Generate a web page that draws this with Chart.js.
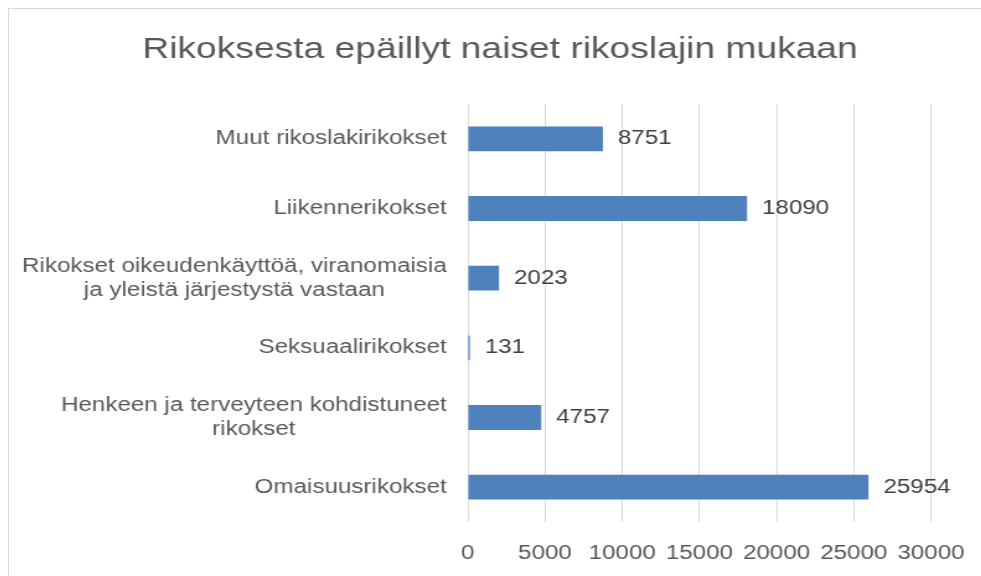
<!DOCTYPE html>
<html>
<head>
<meta charset="utf-8">
<script src="https://cdn.jsdelivr.net/npm/chart.js@4/dist/chart.umd.min.js"></script>
<style>
  html, body { margin: 0; padding: 0; background: #fff; overflow: hidden; }
  #frame { position: absolute; left: 8px; top: 8px; width: 1000px; height: 620px; border: 1px solid #d9d9d9; }
  #wrap { position: relative; width: 792px; height: 587px; transform: scaleX(1.24); transform-origin: 0 0; }
</style>
</head>
<body>
<div id="frame"><div id="wrap"><canvas id="crimeBar"></canvas></div></div>
<script>
// Categories, top to bottom
const categories = [
    ['Muut rikoslakirikokset'],
    ['Liikennerikokset'],
    ['Rikokset oikeudenkäyttöä, viranomaisia', 'ja yleistä järjestystä vastaan'],
    ['Seksuaalirikokset'],
    ['Henkeen ja terveyteen kohdistuneet', 'rikokset'],
    ['Omaisuusrikokset']
];

// Suspected women per crime type
const suspects = [8751, 18090, 2023, 131, 4757, 25954];

// x axis range
const xMin = 0;
const xMax = 30000;
const xStep = 5000;

const fontFamily = "'Liberation Sans', Arial, sans-serif";

// category labels, lines centered on each other, right edge fixed
const categoryLabels = {
    id: 'categoryLabels',
    afterDraw(chart) {
        const ctx = chart.ctx;
        const yScale = chart.scales.y;
        const right = chart.chartArea.left - 17;
        ctx.save();
        ctx.font = '19.5px ' + fontFamily;
        ctx.fillStyle = '#595959';
        ctx.textAlign = 'center';
        ctx.textBaseline = 'middle';
        categories.forEach((lines, i) => {
            const y = yScale.getPixelForTick(i);
            const w = Math.max(...lines.map(l => ctx.measureText(l).width));
            const cx = right - w / 2;
            lines.forEach((line, j) => {
                ctx.fillText(line, cx, y + (j - (lines.length - 1) / 2) * 24);
            });
        });
        ctx.restore();
    }
};

// value labels at the end of each bar
const valueLabels = {
    id: 'valueLabels',
    afterDatasetsDraw(chart) {
        const ctx = chart.ctx;
        const meta = chart.getDatasetMeta(0);
        ctx.save();
        ctx.font = '19.5px ' + fontFamily;
        ctx.fillStyle = '#404040';
        ctx.textAlign = 'left';
        ctx.textBaseline = 'middle';
        meta.data.forEach((bar, i) => {
            ctx.fillText(String(suspects[i]), bar.x + 12, bar.y);
        });
        ctx.restore();
    }
};

const ctx = document.getElementById('crimeBar').getContext('2d');

new Chart(ctx, {
    type: 'bar',
    data: {
        labels: categories,
        datasets: [{
            label: 'Rikoksesta epäillyt naiset',
            data: suspects,
            backgroundColor: '#4f81bd',
            categoryPercentage: 1,
            barPercentage: 0.357
        }]
    },
    options: {
        indexAxis: 'y',
        responsive: true,
        maintainAspectRatio: false,
        animation: false,
        devicePixelRatio: 1,
        layout: {
            padding: { top: 0, right: 0, bottom: 10.6, left: 0 }
        },
        scales: {
            x: {
                min: xMin,
                max: xMax,
                grid: { color: '#d9d9d9', lineWidth: 1, drawTicks: false },
                border: { display: false },
                ticks: {
                    stepSize: xStep,
                    padding: 20,
                    maxRotation: 0,
                    minRotation: 0,
                    autoSkip: false,
                    color: '#595959',
                    font: { family: fontFamily, size: 19.5 },
                    callback: (value) => String(value)
                },
                afterFit(scale) { scale.paddingRight = 48.5; }
            },
            y: {
                grid: { display: false },
                border: { display: false },
                ticks: { display: false },
                afterFit(scale) { scale.width = 370; }
            }
        },
        plugins: {
            legend: { display: false },
            tooltip: { enabled: false },
            title: {
                display: true,
                text: 'Rikoksesta epäillyt naiset rikoslajin mukaan',
                color: '#595959',
                font: { family: fontFamily, size: 30, weight: 'normal' },
                padding: { top: 23, bottom: 36 }
            }
        }
    },
    plugins: [categoryLabels, valueLabels]
});
</script>
</body>
</html>
